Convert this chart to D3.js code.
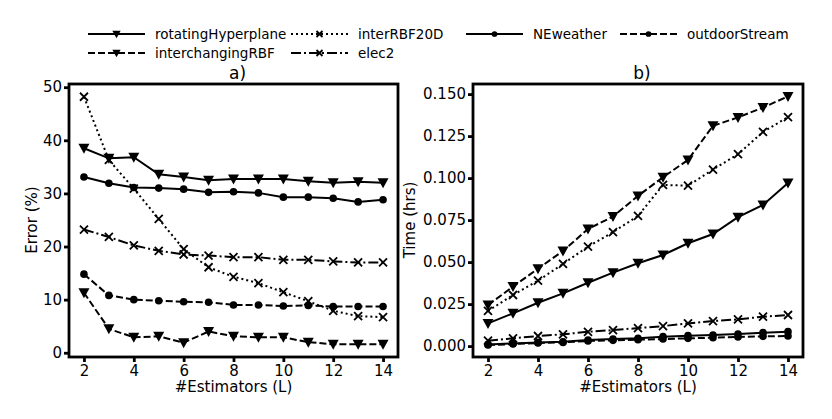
<!DOCTYPE html>
<html>
<head>
<script src="https://cdnjs.cloudflare.com/ajax/libs/d3/7.8.5/d3.min.js"></script>
<style>
  body { margin: 0; background: #fff; }
  text { font-family: "DejaVu Sans", sans-serif; fill: #000; }
</style>
</head>
<body>
<script>
var estimators = [2, 3, 4, 5, 6, 7, 8, 9, 10, 11, 12, 13, 14];

var seriesNames = ["rotatingHyperplane", "interchangingRBF", "interRBF20D", "elec2", "NEweather", "outdoorStream"];

// error (%) per series, panel a)
var errRotating = [38.5, 36.6, 36.8, 33.6, 33.1, 32.5, 32.7, 32.7, 32.7, 32.3, 32.0, 32.2, 32.0];
var errInterchanging = [11.3, 4.5, 2.9, 3.1, 1.9, 4.0, 3.1, 2.9, 2.9, 2.0, 1.6, 1.6, 1.6];
var errInterRBF = [48.2, 36.3, 30.9, 25.2, 19.5, 16.1, 14.3, 13.1, 11.4, 9.7, 7.9, 6.9, 6.7];
var errElec2 = [23.2, 21.8, 20.2, 19.2, 18.5, 18.3, 18.0, 18.0, 17.5, 17.5, 17.2, 17.0, 17.0];
var errWeather = [33.1, 31.9, 31.1, 31.0, 30.8, 30.2, 30.3, 30.1, 29.3, 29.3, 29.1, 28.4, 28.8];
var errOutdoor = [14.8, 10.8, 10.0, 9.8, 9.6, 9.5, 9.0, 9.0, 8.8, 8.9, 8.7, 8.7, 8.7];

// time (hrs) per series, panel b)
var timeRotating = [0.0135, 0.0195, 0.0258, 0.0314, 0.0377, 0.0437, 0.0493, 0.0542, 0.0612, 0.0667, 0.0767, 0.0840, 0.0970];
var timeInterchanging = [0.0244, 0.0354, 0.0461, 0.0566, 0.0697, 0.0771, 0.0894, 0.1005, 0.1108, 0.1311, 0.1361, 0.1420, 0.1486];
var timeInterRBF = [0.0209, 0.0304, 0.0389, 0.0489, 0.0592, 0.0678, 0.0775, 0.0959, 0.0955, 0.1051, 0.1142, 0.1275, 0.1363];
var timeElec2 = [0.0032, 0.0046, 0.0060, 0.0070, 0.0085, 0.0095, 0.0107, 0.0119, 0.0135, 0.0149, 0.0159, 0.0175, 0.0185];
var timeWeather = [0.0010, 0.0016, 0.0022, 0.0026, 0.0036, 0.0042, 0.0046, 0.0056, 0.0062, 0.0066, 0.0072, 0.0080, 0.0086];
var timeOutdoor = [0.0006, 0.0012, 0.0018, 0.0022, 0.0030, 0.0034, 0.0038, 0.0042, 0.0046, 0.0050, 0.0054, 0.0058, 0.0060];

var xTicks = [2, 4, 6, 8, 10, 12, 14];
var errTicks = [0, 10, 20, 30, 40, 50];
var timeTicks = [0, 0.025, 0.05, 0.075, 0.1, 0.125, 0.15];

// line style + marker per series
var styles = {
  rotatingHyperplane: { dash: null, marker: "tri" },
  interchangingRBF: { dash: "7,3", marker: "tri" },
  interRBF20D: { dash: "2,3", marker: "x" },
  elec2: { dash: "10,3,2,3", marker: "x" },
  NEweather: { dash: null, marker: "dot" },
  outdoorStream: { dash: "7,3", marker: "dot" }
};

var svg = d3.select("body").append("svg")
  .attr("width", 832)
  .attr("height", 419);

function drawMarker(g, type, x, y, s) {
  s = s || 1;
  if (type == "tri") {
    g.append("path")
      .attr("d", "M" + (x - 5.5 * s) + "," + (y - 4.5 * s) + "L" + (x + 5.5 * s) + "," + (y - 4.5 * s) + "L" + x + "," + (y + 5.5 * s) + "Z")
      .attr("fill", "#000");
  } else if (type == "dot") {
    g.append("circle").attr("cx", x).attr("cy", y).attr("r", 3.8 * s).attr("fill", "#000");
  } else {
    g.append("path")
      .attr("d", "M" + (x - 4 * s) + "," + (y - 4 * s) + "L" + (x + 4 * s) + "," + (y + 4 * s) + "M" + (x - 4 * s) + "," + (y + 4 * s) + "L" + (x + 4 * s) + "," + (y - 4 * s))
      .attr("stroke", "#000").attr("stroke-width", 1.8);
  }
}

function panel(opts) {
  var x = d3.scaleLinear().domain([1.4, 14.6]).range([opts.left, opts.right]);
  var y = d3.scaleLinear().domain(opts.ydomain).range([357, 84]);
  var g = svg.append("g");

  var line = d3.line()
    .x(function(d, i) { return x(estimators[i]); })
    .y(function(d) { return y(d); });

  seriesNames.forEach(function(name, k) {
    var vals = opts.data[k];
    var st = styles[name];
    g.append("path")
      .attr("d", line(vals))
      .attr("fill", "none")
      .attr("stroke", "#000")
      .attr("stroke-width", 2)
      .attr("stroke-dasharray", st.dash);
    vals.forEach(function(v, i) {
      drawMarker(g, st.marker, x(estimators[i]), y(v));
    });
  });

  // frame
  g.append("rect")
    .attr("x", opts.left).attr("y", 84)
    .attr("width", opts.right - opts.left).attr("height", 273)
    .attr("fill", "none").attr("stroke", "#000").attr("stroke-width", 2.8);

  var xAxis = g.append("g")
    .attr("transform", "translate(0,357)")
    .call(d3.axisBottom(x).tickValues(xTicks).tickSize(5).tickPadding(3));
  var yAxis = g.append("g")
    .attr("transform", "translate(" + opts.left + ",0)")
    .call(d3.axisLeft(y).tickValues(opts.yticks).tickFormat(opts.fmt).tickSize(5).tickPadding(2));

  [xAxis, yAxis].forEach(function(a) {
    a.select(".domain").remove();
    a.selectAll(".tick line").attr("stroke-width", 2.8);
    a.selectAll(".tick text").style("font-size", "15px").style("font-family", "DejaVu Sans");
  });

  g.append("text")
    .attr("x", (opts.left + opts.right) / 2).attr("y", 392)
    .attr("text-anchor", "middle").style("font-size", "15px")
    .text("#Estimators (L)");
  g.append("text")
    .attr("transform", "translate(" + opts.ylabX + ",220) rotate(-90)")
    .attr("text-anchor", "middle").style("font-size", "15px")
    .text(opts.ylabel);
  g.append("text")
    .attr("x", (opts.left + opts.right) / 2 + 4).attr("y", 79)
    .attr("text-anchor", "middle").style("font-size", "17px")
    .text(opts.title);
}

panel({
  left: 69, right: 398,
  ydomain: [-0.8, 50.6],
  yticks: errTicks,
  fmt: d3.format("d"),
  data: [errRotating, errInterchanging, errInterRBF, errElec2, errWeather, errOutdoor],
  ylabel: "Error (%)", ylabX: 37, title: "a)"
});

panel({
  left: 473, right: 803,
  ydomain: [-0.0065, 0.156],
  yticks: timeTicks,
  fmt: d3.format(".3f"),
  data: [timeRotating, timeInterchanging, timeInterRBF, timeElec2, timeWeather, timeOutdoor],
  ylabel: "Time (hrs)", ylabX: 415, title: "b)"
});

// legend, two rows, four columns
var legendOrder = ["rotatingHyperplane", "interRBF20D", "NEweather", "outdoorStream", "interchangingRBF", "elec2"];
var legendTextX = [155, 358, 533, 687];
var legend = svg.append("g");
legendOrder.forEach(function(name, i) {
  var col = i % 4, row = Math.floor(i / 4);
  var ly = row == 0 ? 34 : 53;
  var tx = legendTextX[col];
  var st = styles[name];
  legend.append("line")
    .attr("x1", tx - 67).attr("x2", tx - 10)
    .attr("y1", ly).attr("y2", ly)
    .attr("stroke", "#000").attr("stroke-width", 2)
    .attr("stroke-dasharray", st.dash);
  drawMarker(legend, st.marker, tx - 38.5, ly, 0.75);
  legend.append("text")
    .attr("x", tx).attr("y", ly + 5)
    .style("font-size", "13.5px")
    .text(name);
});
</script>
</body>
</html>
